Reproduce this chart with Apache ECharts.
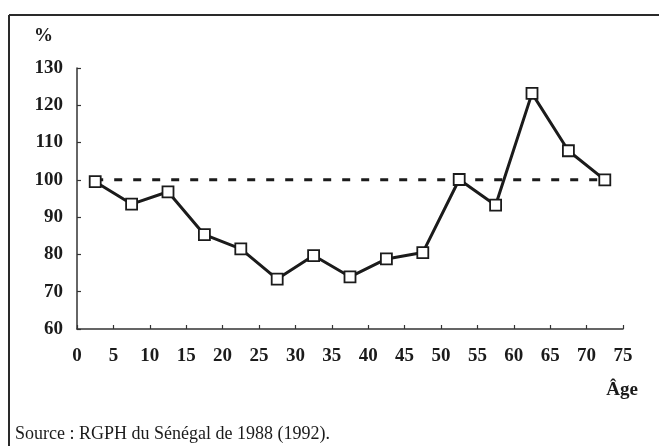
<!DOCTYPE html>
<html>
<head>
<meta charset="utf-8">
<script src="https://cdn.jsdelivr.net/npm/echarts@6/dist/echarts.min.js"></script>
<style>
html,body{margin:0;padding:0;background:#fff;}
#c{width:659px;height:446px;}
</style>
</head>
<body>
<div id="c"></div>
<script>
// Data
var ages = [2.5, 7.5, 12.5, 17.5, 22.5, 27.5, 32.5, 37.5, 42.5, 47.5, 52.5, 57.5, 62.5, 67.5, 72.5];
var ratios = [99.5, 93.5, 96.8, 85.3, 81.5, 73.4, 79.7, 74.0, 78.8, 80.5, 100.1, 93.2, 123.2, 107.8, 100.0];
var refAges = [2.5, 72.5];
var refValues = [100, 100];
var xTicks = [0, 5, 10, 15, 20, 25, 30, 35, 40, 45, 50, 55, 60, 65, 70, 75];
var yTicks = [60, 70, 80, 90, 100, 110, 120, 130];
var yUnit = '%';
var xName = 'Âge';
var sourceText = 'Source : RGPH du Sénégal de 1988 (1992).';

var serif = '"Liberation Serif", "Times New Roman", serif';
var ink = '#1b1b1b';

var chart = echarts.init(document.getElementById('c'), null, {renderer: 'canvas'});
chart.setOption({
  animation: false,
  backgroundColor: '#fff',
  grid: {left: 77, right: 36, top: 68, bottom: 117, containLabel: false},
  xAxis: {
    type: 'value',
    min: xTicks[0], max: xTicks[xTicks.length - 1], interval: 5,
    axisLine: {show: true, onZero: false, lineStyle: {color: '#333', width: 1.5}},
    axisTick: {show: true, inside: true, length: 4, lineStyle: {color: '#333', width: 1.2}},
    splitLine: {show: false},
    axisLabel: {margin: 18, color: ink, fontFamily: serif, fontWeight: 'bold', fontSize: 19}
  },
  yAxis: {
    type: 'value',
    min: yTicks[0], max: yTicks[yTicks.length - 1], interval: 10,
    axisLine: {show: true, lineStyle: {color: '#333', width: 1.5}},
    axisTick: {show: true, inside: true, length: 4, lineStyle: {color: '#333', width: 1.2}},
    splitLine: {show: false},
    axisLabel: {margin: 14, color: ink, fontFamily: serif, fontWeight: 'bold', fontSize: 19}
  },
  graphic: [
    {type: 'line', shape: {x1: 9, y1: 15, x2: 659, y2: 15}, style: {stroke: '#2a2a2a', lineWidth: 2}},
    {type: 'line', shape: {x1: 9, y1: 15, x2: 9, y2: 446}, style: {stroke: '#2a2a2a', lineWidth: 2}},
    {type: 'text', left: 34, top: 27, style: {text: yUnit, font: 'bold 19px ' + serif, fill: ink}},
    {type: 'text', right: 21, top: 381, style: {text: xName, font: 'bold 19px ' + serif, fill: ink}},
    {type: 'text', left: 15, top: 425, style: {text: sourceText, font: '18px ' + serif, fill: ink}}
  ],
  series: [
    {
      type: 'line',
      data: refAges.map(function (a, i) { return [a, refValues[i]]; }),
      symbol: 'none',
      lineStyle: {color: ink, width: 3, type: [8, 11]},
      z: 1
    },
    {
      type: 'line',
      data: ages.map(function (a, i) { return [a, ratios[i]]; }),
      symbol: 'rect',
      symbolSize: 11,
      itemStyle: {color: '#fff', borderColor: ink, borderWidth: 1.8},
      lineStyle: {color: ink, width: 3},
      z: 2
    }
  ]
});
</script>
</body>
</html>
